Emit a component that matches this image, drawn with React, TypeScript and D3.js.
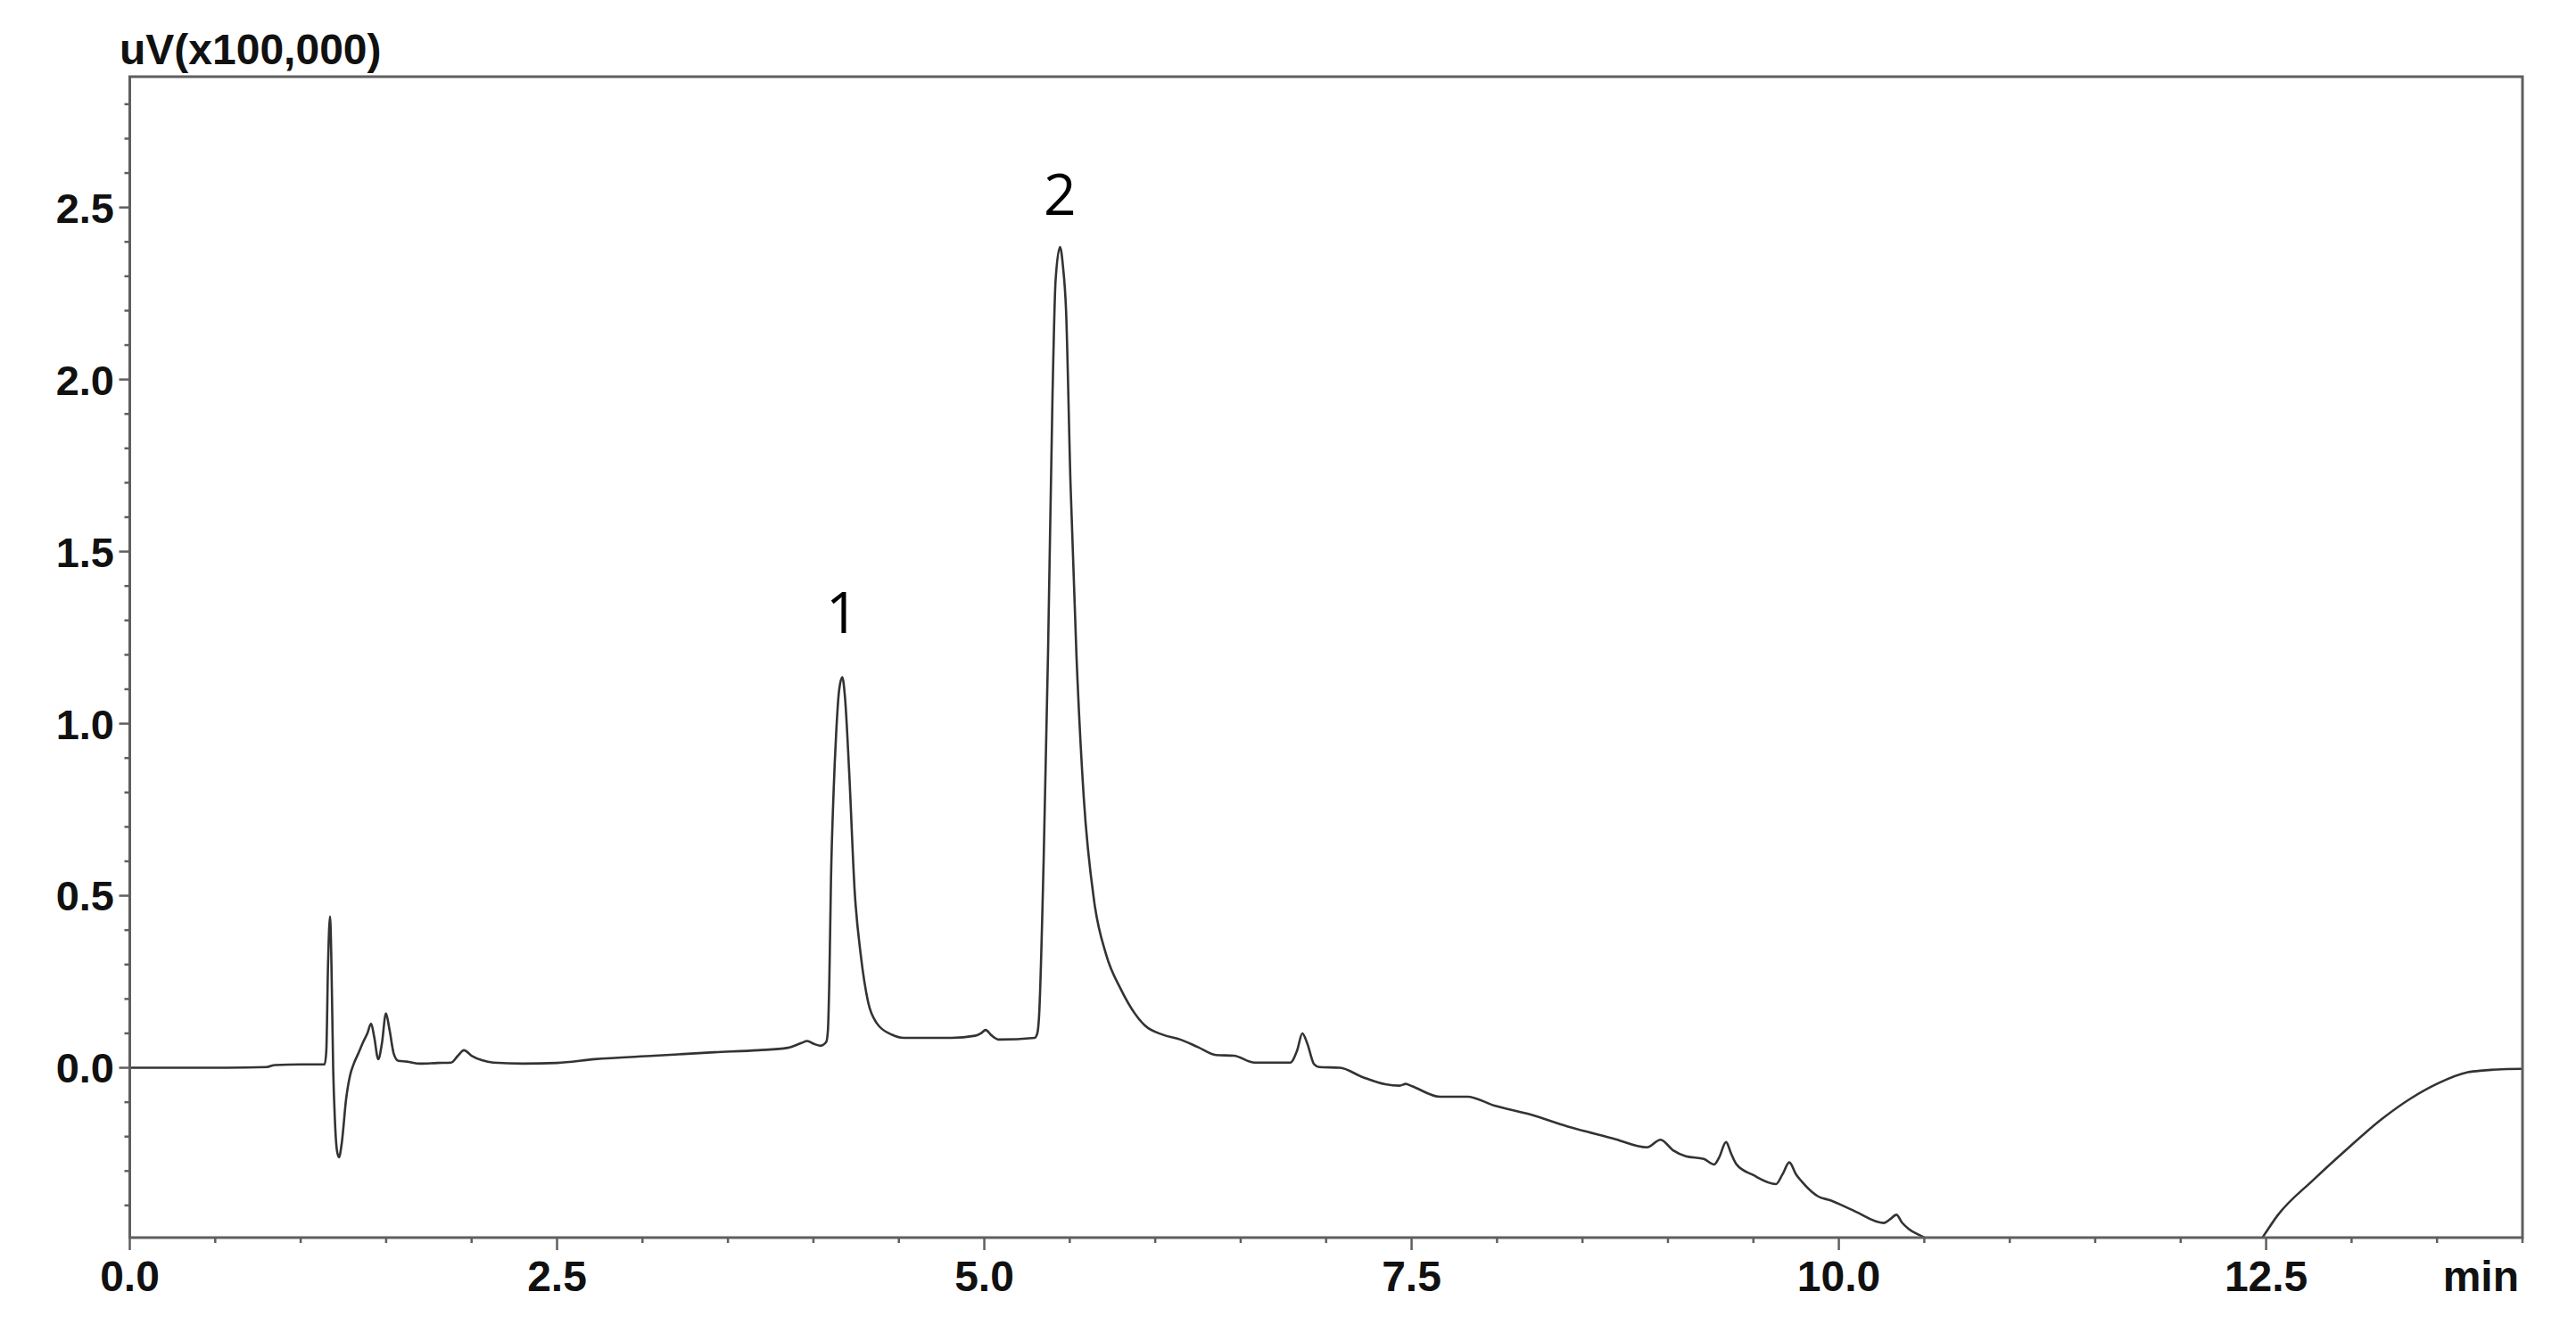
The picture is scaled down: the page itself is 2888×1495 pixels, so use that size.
import React from 'react';
import * as d3 from 'd3';

// Chromatogram trace (time in min, signal in uV x100,000)
const timeMin = [
  0.0, 0.5, 0.8, 0.85, 1.0, 1.14, 1.15, 1.16, 1.172, 1.18, 1.19, 1.2, 1.212, 1.224, 1.24, 1.266, 1.29, 1.311,
  1.34, 1.363, 1.39, 1.412, 1.43, 1.454, 1.475, 1.499, 1.52, 1.545, 1.572, 1.62, 1.7, 1.8, 1.88, 1.92, 1.955,
  2.0, 2.06, 2.127, 2.3, 2.5, 2.72, 3.07, 3.42, 3.677, 3.85, 3.93, 3.964, 4.0, 4.042, 4.075, 4.085, 4.093,
  4.103, 4.118, 4.133, 4.15, 4.169, 4.185, 4.208, 4.242, 4.277, 4.32, 4.373, 4.46, 4.53, 4.808, 4.946, 4.98,
  5.008, 5.04, 5.086, 5.295, 5.31, 5.32, 5.347, 5.373, 5.399, 5.417, 5.443, 5.46, 5.478, 5.504, 5.539, 5.582,
  5.643, 5.712, 5.8, 5.939, 6.05, 6.147, 6.25, 6.356, 6.46, 6.582, 6.79, 6.83, 6.861, 6.89, 6.93, 6.96, 7.08,
  7.213, 7.346, 7.43, 7.466, 7.5, 7.666, 7.826, 7.985, 8.197, 8.41, 8.677, 8.877, 8.957, 9.03, 9.104, 9.21,
  9.27, 9.3, 9.34, 9.37, 9.4, 9.5, 9.632, 9.67, 9.71, 9.75, 9.782, 9.876, 9.955, 10.09, 10.262, 10.3, 10.337,
  10.37, 10.408, 10.502, 10.6, 11.0, 12.0, 12.4, 12.483, 12.567, 12.776, 12.985, 13.177, 13.35, 13.507, 13.68,
  13.767, 13.993, 14.0,
];
const signal = [
  0.0, 0.0, 0.002, 0.008, 0.01, 0.01, 0.05, 0.3, 0.44, 0.3, 0.0, -0.15, -0.24, -0.26, -0.22, -0.09, -0.02, 0.012,
  0.045, 0.072, 0.1, 0.128, 0.09, 0.025, 0.07, 0.158, 0.11, 0.04, 0.02, 0.018, 0.012, 0.014, 0.015, 0.035, 0.051,
  0.035, 0.022, 0.015, 0.012, 0.014, 0.025, 0.035, 0.045, 0.051, 0.058, 0.072, 0.078, 0.07, 0.064, 0.075, 0.11, 0.25,
  0.55, 0.8, 0.97, 1.095, 1.135, 1.075, 0.873, 0.509, 0.328, 0.191, 0.128, 0.096, 0.087, 0.087, 0.093, 0.1,
  0.11, 0.095, 0.082, 0.087, 0.1, 0.147, 0.6, 1.21, 1.953, 2.288, 2.385, 2.33, 2.204, 1.703, 1.2, 0.784,
  0.483, 0.33, 0.227, 0.123, 0.095, 0.082, 0.06, 0.037, 0.035, 0.015, 0.015, 0.05, 0.1, 0.07, 0.01, 0.002, 0.0,
  -0.027, -0.048, -0.052, -0.047, -0.053, -0.084, -0.084, -0.11, -0.136, -0.17, -0.205, -0.231, -0.209, -0.24, -0.257, -0.265,
  -0.281, -0.26, -0.216, -0.25, -0.28, -0.312, -0.338, -0.31, -0.275, -0.31, -0.33, -0.373, -0.386, -0.416, -0.451, -0.44, -0.427,
  -0.45, -0.468, -0.494, -0.53, -0.6, -0.6, -0.55, -0.49, -0.429, -0.326, -0.231, -0.149, -0.088, -0.045, -0.013,
  -0.008, -0.003, -0.003,
];

const xMajorTicks = [0, 2.5, 5, 7.5, 10, 12.5];
const xTickLabels = ['0.0', '2.5', '5.0', '7.5', '10.0', '12.5'];
const yMajorTicks = [0, 0.5, 1, 1.5, 2, 2.5];
const yTickLabels = ['0.0', '0.5', '1.0', '1.5', '2.0', '2.5'];
const peakLabels = ['1', '2'];
const peakTimes = [4.169, 5.443];
const peakLabelLevels = [1.263, 2.478];
const yUnitLabel = 'uV(x100,000)';
const xUnitLabel = 'min';

const W = 2888;
const H = 1495;
const L = 145.5, R = 2828, T = 86, B = 1388;
const axisColor = '#5f5f5f';
const boldFont = '"Liberation Sans", Arial, sans-serif';

export default function App() {
  const x = d3.scaleLinear().domain([0, 14]).range([L, R]);
  const y = d3.scaleLinear().domain([-0.4935, 2.88]).range([B, T]);
  const pts: [number, number][] = timeMin.map((t, i) => [t, signal[i]]);
  const line = d3.line<[number, number]>()
    .x(d => x(d[0]))
    .y(d => y(d[1]))
    .curve(d3.curveMonotoneX);

  const xMinor = d3.range(0, 14.0001, 0.5).filter(v => !xMajorTicks.some(m => Math.abs(m - v) < 1e-6));
  const yMinor = d3.range(-4, 29).map(v => v / 10).filter(v => !yMajorTicks.some(m => Math.abs(m - v) < 1e-6));

  return (
    <svg width={W} height={H} style={{ position: 'absolute', left: 0, top: 0, background: '#fff' }}>
      <rect x={0} y={0} width={W} height={H} fill="#fff" />
      <defs>
        <clipPath id="plotClip">
          <rect x={L} y={T} width={R - L} height={B - T} />
        </clipPath>
      </defs>
      <path d={line(pts) || ''} fill="none" stroke="#333" strokeWidth={2.6} strokeLinejoin="round" clipPath="url(#plotClip)" />
      {/* frame */}
      <rect x={L} y={T} width={R - L} height={B - T} fill="none" stroke={axisColor} strokeWidth={3} />
      {/* y ticks */}
      {yMinor.map(v => (
        <line key={'ym' + v} x1={L - 6} x2={L} y1={y(v)} y2={y(v)} stroke={axisColor} strokeWidth={2.5} />
      ))}
      {yMajorTicks.map((v, i) => (
        <g key={'yM' + v}>
          <line x1={L - 12} x2={L} y1={y(v)} y2={y(v)} stroke={axisColor} strokeWidth={2.5} />
          <text x={128} y={y(v)} dy="0.36em" textAnchor="end" fontFamily={boldFont} fontWeight="bold" fontSize={47} fill="#111">
            {yTickLabels[i]}
          </text>
        </g>
      ))}
      {/* x ticks */}
      {xMinor.map(v => (
        <line key={'xm' + v} x1={x(v)} x2={x(v)} y1={B} y2={B + 6} stroke={axisColor} strokeWidth={2.5} />
      ))}
      {xMajorTicks.map((v, i) => (
        <g key={'xM' + v}>
          <line x1={x(v)} x2={x(v)} y1={B} y2={B + 14} stroke={axisColor} strokeWidth={2.5} />
          <text x={x(v)} y={1448} textAnchor="middle" fontFamily={boldFont} fontWeight="bold" fontSize={48} fill="#111">
            {xTickLabels[i]}
          </text>
        </g>
      ))}
      <text x={2824} y={1448} textAnchor="end" fontFamily={boldFont} fontWeight="bold" fontSize={48} fill="#111">
        {xUnitLabel}
      </text>
      <text x={134} y={72} fontFamily={boldFont} fontWeight="bold" fontSize={48} fill="#111">
        {yUnitLabel}
      </text>
      {peakLabels.map((lab, i) => (
        <text key={'pk' + lab} x={x(peakTimes[i])} y={y(peakLabelLevels[i])} textAnchor="middle"
          fontFamily='"Open Sans", "Noto Sans", sans-serif' fontSize={64} fill="#000">
          {lab}
        </text>
      ))}
    </svg>
  );
}
